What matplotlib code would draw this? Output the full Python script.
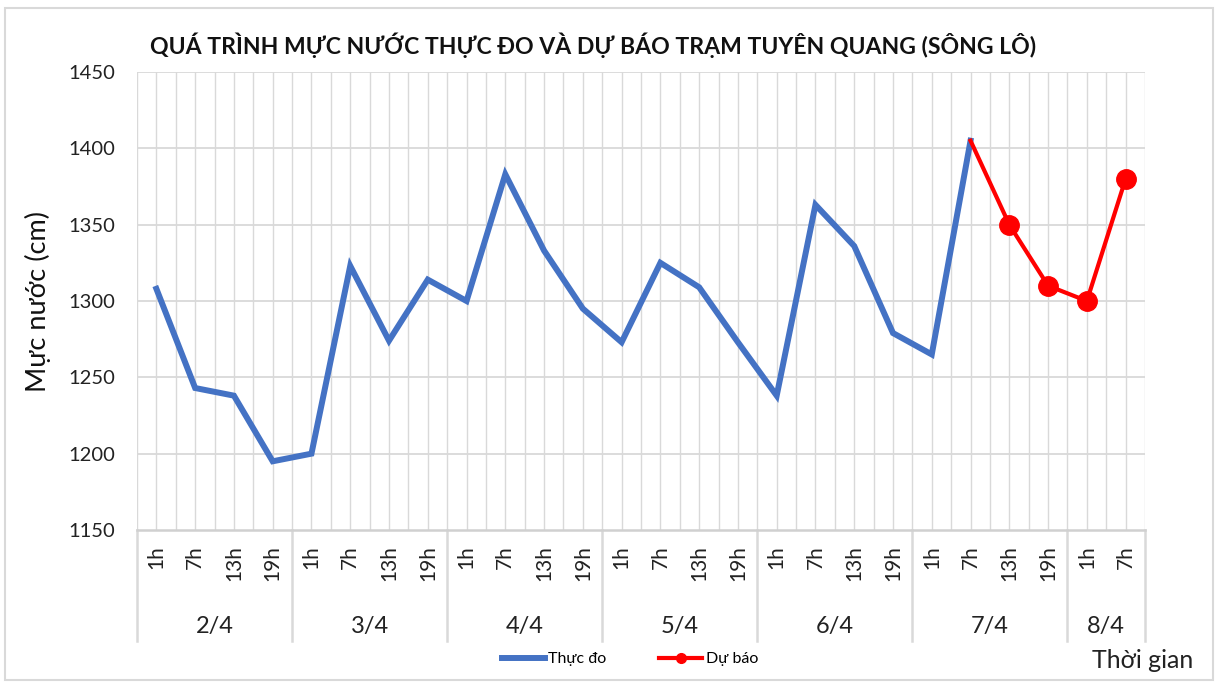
import matplotlib
matplotlib.use("Agg")
import matplotlib.pyplot as plt
import numpy as np
from matplotlib.lines import Line2D
from matplotlib.patches import Rectangle
import matplotlib.transforms as mtransforms

plt.rcParams['font.family'] = ['Lato', 'DejaVu Sans']

# ---- data ----
hours = ["1h", "7h", "13h", "19h"] * 6 + ["1h", "7h"]
dates = ["2/4", "3/4", "4/4", "5/4", "6/4", "7/4", "8/4"]
date_sizes = [4, 4, 4, 4, 4, 4, 2]
observed = [1308, 1243, 1238, 1195,
            1200, 1323, 1274, 1314,
            1300, 1383, 1333, 1295,
            1273, 1325, 1309, 1273,
            1238, 1363, 1336, 1279,
            1265, 1405]
forecast = [1405, 1350, 1310, 1300, 1380]
forecast_start = 21
title = "QUÁ TRÌNH MỰC NƯỚC THỰC ĐO VÀ DỰ BÁO TRẠM TUYÊN QUANG (SÔNG LÔ)"
yticks = [1150, 1200, 1250, 1300, 1350, 1400, 1450]

W, H = 1219, 682
fig = plt.figure(figsize=(W / 100, H / 100), dpi=100)
fig.patch.set_facecolor("white")

# outer border
fig.patches.append(Rectangle((5 / W, 2 / H), 1208 / W, 672 / H, transform=fig.transFigure,
                             fill=False, edgecolor="#d9d9d9", linewidth=1.5))

left, right, top, bottom = 137, 1145, 72, 530
ax = fig.add_axes([left / W, 1 - bottom / H, (right - left) / W, (bottom - top) / H])

n = len(hours)
x_obs = np.arange(len(observed))
x_fc = np.arange(forecast_start, forecast_start + len(forecast))

ax.set_xlim(-0.5, n - 0.5)
ax.set_ylim(1150, 1450)

grid_c = "#d9d9d9"
for xv in np.arange(-0.5, n, 0.5):
    ax.axvline(xv, color=grid_c, linewidth=1.0, zorder=0)
for yv in yticks[1:]:
    ax.axhline(yv, color=grid_c, linewidth=1.3, zorder=0)

ax.plot(x_obs, observed, color="#4472C4", linewidth=4.3, solid_joinstyle="miter", zorder=3)
ax.plot(x_fc, forecast, color="#FF0000", linewidth=3.0, marker="o", markersize=14,
        markevery=list(range(1, len(forecast))), zorder=4)

for s in ax.spines.values():
    s.set_visible(False)
ax.spines["bottom"].set_visible(True)
ax.spines["bottom"].set_color("#d0d0d0")
ax.spines["bottom"].set_linewidth(1.8)

ax.set_yticks(yticks)
ax.set_yticklabels([str(v) for v in yticks], fontsize=14.5, color="#222222")
ax.tick_params(axis="y", length=0, pad=16)
ax.set_xticks([])

# hour labels (rotated)
trans = mtransforms.blended_transform_factory(ax.transData, fig.transFigure)
for i, h in enumerate(hours):
    ax.text(i, 1 - 545 / H, h, rotation=90, ha="center", va="top", fontsize=15,
            color="#222222", transform=trans)

# date labels and separators
pos = 0
bounds = [-0.5]
for d, sz in zip(dates, date_sizes):
    c = pos + (sz - 1) / 2
    ax.text(c, 1 - 627 / H, d, ha="center", va="center", fontsize=17, color="#222222",
            transform=trans)
    pos += sz
    bounds.append(pos - 0.5)
for b in bounds:
    ax.add_line(Line2D([b, b], [1 - 530 / H, 1 - 641 / H], transform=trans, color=grid_c,
                       linewidth=1.8, clip_on=False))

# title and axis labels
fig.text(593 / W, 1 - 45 / H, title, ha="center", va="center", fontsize=16.6,
         fontweight="bold", color="#111111")
fig.text(38 / W, 1 - 301 / H, "Mực nước (cm)", rotation=90, ha="center", va="center",
         fontsize=19.5, color="#111111")
fig.text(1143 / W, 1 - 660 / H, "Thời gian", ha="center", va="center", fontsize=18,
         color="#222222")

# legend
handles = [Line2D([], [], color="#4472C4", linewidth=4.3),
           Line2D([], [], color="#FF0000", linewidth=3.0, marker="o", markersize=7)]
fig.legend(handles, ["Thực đo", "Dự báo"], loc="center", bbox_to_anchor=(630 / W, 1 - 659 / H),
           ncol=2, frameon=False, fontsize=11.5, handlelength=2.7, handletextpad=0.2,
           columnspacing=3.3)

fig.savefig("out.png", dpi=100, facecolor="white")
